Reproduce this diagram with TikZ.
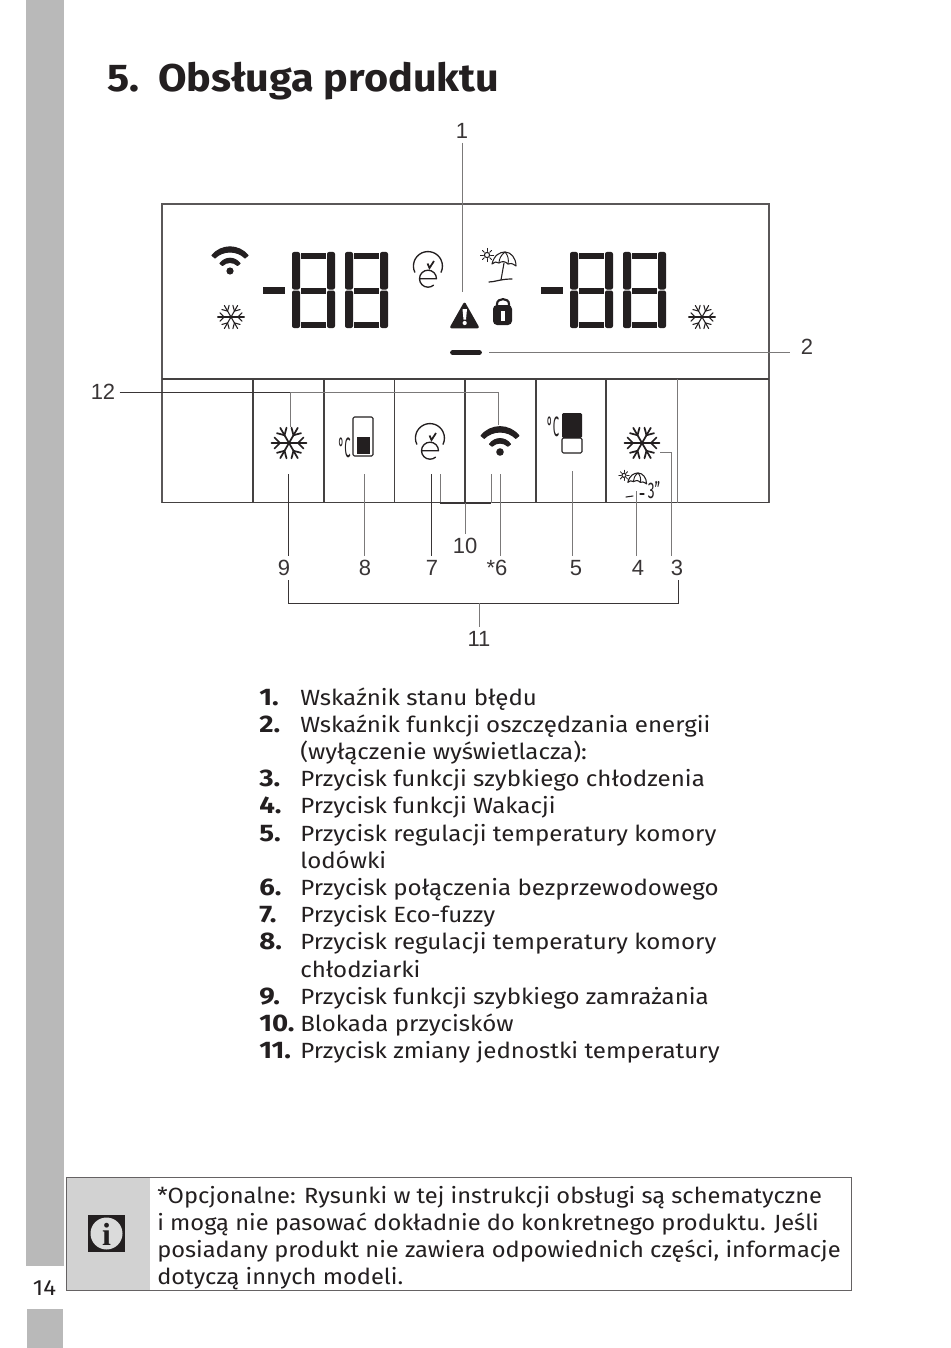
\documentclass[tikz,border=0pt]{standalone}
\usepackage{fontspec}
\setmainfont{Fira Sans}
\newfontfamily\labelfont{Liberation Sans}
\newfontfamily\infofont{Liberation Serif}
\usetikzlibrary{positioning,arrows.meta}
\definecolor{bandgrey}{HTML}{B9B9B9}
\definecolor{boxgrey}{HTML}{D2D2D2}
\definecolor{inkdark}{HTML}{231F20}
\tikzset{
  panelline/.style={draw=inkdark!85,line width=0.85pt},
  leader/.style={draw=inkdark!60,line width=0.7pt},
  darkleader/.style={draw=inkdark!90,line width=0.75pt},
  numlabel/.style={font=\labelfont\fontsize{16.5}{18}\selectfont,text=inkdark!90,inner sep=3pt},
  itemnum/.style={anchor=base west,inner sep=0pt,xscale=1.15,font=\fontsize{18}{20}\selectfont\bfseries,text=inkdark},
  itemtext/.style={anchor=base west,inner sep=0pt,xscale=1.095,font=\fontsize{16.5}{20}\selectfont,text=inkdark},
  notetext/.style={anchor=base west,inner sep=0pt,xscale=1.075,font=\fontsize{16.5}{20}\selectfont,text=inkdark},
  headline/.style={anchor=base west,inner sep=0pt,xscale=1.07,font=\fontsize{29}{32}\selectfont\bfseries,text=inkdark},
  iconline/.style={draw=inkdark,line width=1pt,line cap=round,line join=round},
  digit/.pic={
    \fill[inkdark,rounded corners=1.5] (0,37.5) -- (0,0) -- (8,0) -- (8,37.5) -- cycle;
    \fill[inkdark,rounded corners=1.5] (0,38.5) -- (0,76) -- (8,76) -- (8,38.5) -- cycle;
    \fill[inkdark,rounded corners=1.5] (35,37.5) -- (35,0) -- (43,0) -- (43,37.5) -- cycle;
    \fill[inkdark,rounded corners=1.5] (35,38.5) -- (35,76) -- (43,76) -- (43,38.5) -- cycle;
    \fill[inkdark] (9,1) rectangle (34,7);
    \fill[inkdark] (9,36) rectangle (34,42);
    \fill[inkdark] (9,70) rectangle (34,76);
  },
  snowflake/.pic={
    \foreach \a in {0,60,...,300}{
      \begin{scope}[rotate=\a]
        \draw[iconline,line width=#1] (0,0) -- (17.5,0);
        \draw[iconline,line width=#1] (9,0) -- (14.5,-5.5);
        \draw[iconline,line width=#1] (9,0) -- (14.5,5.5);
      \end{scope}
    }
  },
  wifi/.pic={
    \fill[inkdark] (0,0) circle[radius=3.6];
    \filldraw[draw=inkdark,fill=inkdark,line width=0.8pt,line join=round] (-18,-15.5) .. controls (-9,-27) and (9,-27) .. (18,-15.5)
      -- (15,-13) .. controls (7,-21) and (-7,-21) .. (-15,-13) -- cycle;
    \filldraw[draw=inkdark,fill=inkdark,line width=0.8pt,line join=round] (-10,-7.5) .. controls (-5,-14.5) and (5,-14.5) .. (10,-7.5)
      -- (7.5,-5.5) .. controls (3.5,-9.5) and (-3.5,-9.5) .. (-7.5,-5.5) -- cycle;
  },
  efuzzy/.pic={
    \draw[iconline] (-13.2,6.2) arc[start angle=155,end angle=385,radius=14.5];
    \draw[iconline] (-8.5,12.7) -- (8.5,12.7) arc[start angle=360,end angle=50,radius=8.5];
    \draw[draw=inkdark,line width=1.3pt] (-0.5,-2.5) -- (1.5,2) -- (6,-5);
  },
  parasol/.pic={
    \draw[iconline,line width=0.8pt] (-13,12) .. controls (-11,3) and (-5,0) .. (0,0)
      .. controls (6,0) and (11,6) .. (11,14)
      .. controls (7,11) and (5,11) .. (3,12) .. controls (0,9) and (-3,9) .. (-6,11)
      .. controls (-8,9) and (-11,10) .. (-13,12);
    \draw[iconline,line width=0.7pt] (0,0) .. controls (-4,3) and (-6,7) .. (-6,11);
    \draw[iconline,line width=0.7pt] (0,0) .. controls (3,3) and (4,8) .. (3,12);
    \draw[iconline,line width=0.8pt] (-18,3) circle[radius=2.6];
    \foreach \a in {0,45,...,315}{
      \draw[iconline,line width=0.6pt] (-18,3) ++(\a:3.6) -- ++(\a:3);
    }
  },
}
\begin{document}
\begin{tikzpicture}[x=0.75pt,y=-0.75pt]
  \useasboundingbox (0,0) rectangle (950,1348);
  \fill[white] (0,0) rectangle (950,1348);
  % page band
  \fill[bandgrey] (26,0) rectangle (64,1266);
  \fill[bandgrey] (27,1309) rectangle (63,1348);
  \node[inner sep=0pt,xscale=1.09,font=\fontsize{16.5}{18}\selectfont,text=inkdark] (pagenum) at (44.5,1288) {14};
  \node[headline] (chapternum) at (107,92) {5.};
  \node[headline] (title) at (158,92) {Obsługa produktu};

  % panel
  \draw[draw=inkdark!75,line width=0.8pt] (162,204) rectangle (769,502.5);
  \draw[panelline] (162,379) -- (769,379);
  \draw[panelline] (162,502.5) -- (769,502.5);
  \foreach \x in {253,324,394.5,465,536,606}
    \draw[panelline] (\x,379) -- (\x,502.5);
  \draw[leader] (677,379) -- (677,502.5);

  % display
  \fill[inkdark] (263,287) rectangle (285,294);
  \fill[inkdark] (541,287) rectangle (563,294);
  \pic at (292,252) {digit};
  \pic at (345,252) {digit};
  \pic at (570,252) {digit};
  \pic at (623,252) {digit};
  \pic at (230,271) {wifi};
  \pic[scale=0.76] at (231,317) {snowflake=0.8pt};
  \pic[scale=0.76] at (702,317) {snowflake=0.8pt};
  \pic at (428,266) {efuzzy};
  \pic at (505,252) {parasol};
  \draw[iconline,line width=0.8pt] (504,263) -- (501,280);
  \draw[iconline,line width=0.9pt] (489,282) .. controls (495,282) and (500,279) .. (512,279);
  % warning, lock, eco bar
  \fill[inkdark,draw=inkdark,line width=2pt,line join=round] (464.5,304) -- (477.5,327) -- (451.5,327) -- cycle;
  \fill[white] (462.5,309) -- (467,309) -- (466,319.5) -- (463.5,319.5) -- cycle;
  \fill[white] (464.7,323) circle[radius=2.1];
  \draw[draw=inkdark,line width=1.6pt] (497,306) -- (497,304) .. controls (497,297.5) and (509,297.5) .. (509,304) -- (509,306);
  \fill[inkdark,rounded corners=3] (493,305) rectangle (512,325);
  \fill[white] (501.3,311) rectangle (504.7,321);
  \draw[draw=inkdark,line width=4.4pt,line cap=round] (453,352.5) -- (479,352.5);

  % buttons
  \pic at (289,443) {snowflake=1.3pt};
  \pic at (642,443) {snowflake=1.3pt};
  \pic[scale=1.05] at (500,452) {wifi};
  \pic at (430,438) {efuzzy};
  \draw[iconline,line width=0.8pt,rounded corners=1] (353,417) rectangle (373,456);
  \fill[inkdark] (356.5,437) rectangle (370,454);
  \draw[iconline,line width=0.8pt,rounded corners=1] (562,438) rectangle (582,453);
  \fill[inkdark,rounded corners=1] (562,413) rectangle (582,438);
  \node[inner sep=0pt,xscale=0.4,font=\fontsize{21}{22}\selectfont,text=inkdark] (celsiusA) at (344.5,448) {°C};
  \node[inner sep=0pt,xscale=0.4,font=\fontsize{21}{22}\selectfont,text=inkdark] (celsiusB) at (553,427) {°C};
  \pic[scale=0.78] at (638,473) {parasol};
  \draw[iconline,line width=0.8pt] (626,497) -- (633,496);
  \draw[iconline,line width=0.8pt] (640,494) -- (644,494);
  \node[inner sep=0pt,xscale=0.6,font=\fontsize{17}{18}\selectfont,text=inkdark] (holidaytime) at (654,490) {3"};

  % leader lines
  \node[numlabel] (num1) at (462,131) {1};
  \node[numlabel] (num2) at (807,347) {2};
  \node[numlabel] (num12) at (103,392) {12};
  \node[numlabel] (num9) at (284,568) {9};
  \node[numlabel] (num8) at (365,568) {8};
  \node[numlabel] (num7) at (432,568) {7};
  \node[numlabel] (num6) at (497,568) {*6};
  \node[numlabel] (num5) at (576,568) {5};
  \node[numlabel] (num4) at (638,568) {4};
  \node[numlabel] (num3) at (677,568) {3};
  \node[numlabel] (num10) at (465,546) {10};
  \node[numlabel] (num11) at (479,639) {11};
  \coordinate (warnend) at (462,292);
  \coordinate (ecoend) at (489,352);
  \coordinate (ecostart) at (790,352);
  \coordinate (wifiend) at (498,425);
  \coordinate (snowend) at (290,427);
  \coordinate (joinend) at (290,392.5);
  \coordinate (lockleft) at (440,474);
  \coordinate (lockright) at (491,474);
  \coordinate (lockmid) at (465,503);
  \coordinate (btnnine) at (288.5,474);
  \coordinate (btneight) at (364,474);
  \coordinate (btnseven) at (431,474);
  \coordinate (btnsix) at (500,474);
  \coordinate (btnfive) at (572,471);
  \coordinate (btnfour) at (636,491);
  \coordinate (btnthree) at (660,452);
  \coordinate (threeturn) at (671,452);
  \draw[leader] (num1) -- (warnend);
  \draw[leader] (ecoend) -- (ecostart);
  \draw[darkleader] (num12.east |- joinend) -- (joinend);
  \draw[leader] (joinend) -- (wifiend |- joinend) -- (wifiend);
  \draw[leader] (joinend) -- (snowend);
  \draw[darkleader] (btnnine) -- (btnnine |- num9.north);
  \draw[leader] (btneight) -- (btneight |- num8.north);
  \draw[darkleader] (btnseven) -- (btnseven |- num7.north);
  \draw[leader] (btnsix) -- (btnsix |- num6.north);
  \draw[leader] (btnfive) -- (btnfive |- num5.north);
  \draw[leader] (btnfour) -- (btnfour |- num4.north);
  \draw[leader] (btnthree) -- (threeturn) -- (threeturn |- num3.north);
  \draw[leader] (lockleft) -- (lockleft |- lockmid);
  \draw[leader] (lockright) -- (lockright |- lockmid);
  \draw[darkleader,line width=1pt] (lockleft |- lockmid) -- (lockright |- lockmid);
  \draw[leader] (lockmid) -- (num10.north);
  \coordinate (bracketleft) at (288,603);
  \coordinate (bracketright) at (678,603);
  \draw[darkleader] (bracketleft |- num9.south) -- (bracketleft) -- (bracketright) -- (bracketright |- num3.south);
  \draw[leader] (num11.north |- bracketleft) -- (num11.north);

  % key
  \foreach \y/\n/\t [count=\i] in {
    0/1./Wskaźnik stanu błędu,
    1/2./Wskaźnik funkcji oszczędzania energii,
    2//(wyłączenie wyświetlacza):,
    3/3./Przycisk funkcji szybkiego chłodzenia,
    4/4./Przycisk funkcji Wakacji,
    5/5./Przycisk regulacji temperatury komory,
    6//lodówki,
    7/6./Przycisk połączenia bezprzewodowego,
    8/7./Przycisk Eco-fuzzy,
    9/8./Przycisk regulacji temperatury komory,
    10//chłodziarki,
    11/9./Przycisk funkcji szybkiego zamrażania,
    12/10./Blokada przycisków,
    13/11./Przycisk zmiany jednostki temperatury}{
    \node[itemnum] (keynum\i) at (259,705+27.2*\y) {\n};
    \node[itemtext] (keytext\i) at (300,705+27.2*\y) {\t};
  }

  % note
  \fill[boxgrey] (66,1177) rectangle (150,1290);
  \draw[draw=inkdark!70,line width=0.7pt] (66,1177) rectangle (851,1290);
  \fill[inkdark] (88,1215) rectangle (125,1252);
  \fill[boxgrey!80!white] (106.5,1233.5) circle[radius=16];
  \node[inner sep=0pt,font=\infofont\fontsize{24}{24}\selectfont\bfseries,text=inkdark] (infoi) at (106.5,1234) {i};
  \node[notetext] (note1) at (157,1203) {*Opcjonalne: Rysunki w tej instrukcji obsługi są schematyczne};
  \node[notetext] (note2) at (157,1230) {i mogą nie pasować dokładnie do konkretnego produktu. Jeśli};
  \node[notetext] (note3) at (157,1257) {posiadany produkt nie zawiera odpowiednich części, informacje};
  \node[notetext] (note4) at (157,1284) {dotyczą innych modeli.};
\end{tikzpicture}
\end{document}
